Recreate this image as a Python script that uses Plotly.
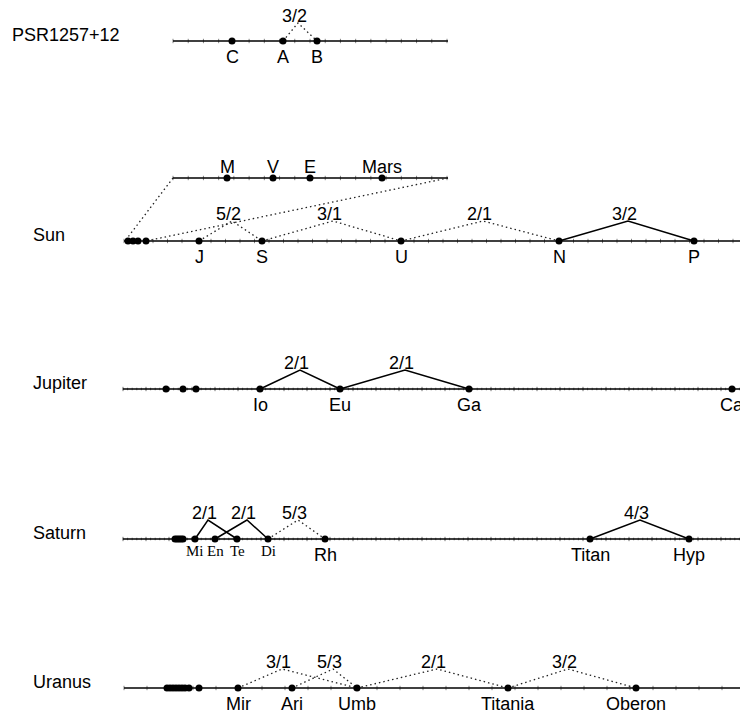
import numpy as np
import plotly.graph_objects as go

# ---------------- data (positions along each row's orbital-distance scale) ----------------
psr_names = ["C", "A", "B"]
psr_pos = [232, 283, 317]

inner_names = ["M", "V", "E", "Mars"]
inner_pos = [227, 273, 310, 382]

sun_small = [128, 133, 138, 146]
sun_names = ["J", "S", "U", "N", "P"]
sun_pos = [199, 262, 401, 559, 694]

jup_small = [166, 183, 196]
jup_names = ["Io", "Eu", "Ga", "Ca"]
jup_pos = [260, 340, 469, 732]

sat_small = [175, 177, 179, 181, 183]
sat_names = ["Mi", "En", "Te", "Di", "Rh", "Titan", "Hyp"]
sat_pos = [195, 215, 237, 268, 325, 590, 689]

ura_small = [167, 170, 173, 176, 179, 182, 185, 189, 199]
ura_names = ["Mir", "Ari", "Umb", "Titania", "Oberon"]
ura_pos = [238, 292, 357, 508, 636]

# resonances: (system, body1, body2, ratio, apex position, solid?)
resonances = [
    ("PSR", "A", "B", "3/2", 298, False),
    ("Sun", "J", "S", "5/2", 232, False),
    ("Sun", "S", "U", "3/1", 333, False),
    ("Sun", "U", "N", "2/1", 483, False),
    ("Sun", "N", "P", "3/2", 628, True),
    ("Jup", "Io", "Eu", "2/1", 300, True),
    ("Jup", "Eu", "Ga", "2/1", 405, True),
    ("Sat", "Mi", "Te", "2/1", 208, True),
    ("Sat", "En", "Di", "2/1", 247, True),
    ("Sat", "Di", "Rh", "5/3", 298, False),
    ("Sat", "Titan", "Hyp", "4/3", 640, True),
    ("Ura", "Mir", "Umb", "3/1", 282, False),
    ("Ura", "Ari", "Umb", "5/3", 333, False),
    ("Ura", "Umb", "Titania", "2/1", 437, False),
    ("Ura", "Titania", "Oberon", "3/2", 568, False),
]

row_titles = ["PSR1257+12", "Sun", "Jupiter", "Saturn", "Uranus"]

# ---------------- layout constants ----------------
W, H = 740, 715
LEV = {"PSR": 41, "Inset": 178, "Sun": 241, "Jup": 389, "Sat": 539, "Ura": 688}
TITLE_X = [10, 31, 31, 31, 31]
TITLE_KEYS = ["PSR", "Sun", "Jup", "Sat", "Ura"]
APEX_H = {"PSR": 18, "Sun": 20, "Jup": 19, "Sat": 19, "Ura": 19}
FONT = "Arial, Liberation Sans, sans-serif"
SERIF = "Times New Roman, Liberation Serif, serif"
FS = 18

systems = {
    "PSR": (psr_names, psr_pos, []),
    "Sun": (sun_names, sun_pos, sun_small),
    "Jup": (jup_names, jup_pos, jup_small),
    "Sat": (sat_names, sat_pos, sat_small),
    "Ura": (ura_names, ura_pos, ura_small),
}

fig = go.Figure()
ann = []

def seg_trace(xs, ys, color="black", width=1.6, dash="solid"):
    fig.add_trace(go.Scatter(x=xs, y=ys, mode="lines", hoverinfo="skip",
                             line=dict(color=color, width=width, dash=dash),
                             showlegend=False))

# axis lines and ticks
axes = [  # key, start, end, minor spacing, major spacing
    ("PSR", 173, 448, None, 274 / 18),
    ("Inset", 173, 448, None, 274 / 18),
    ("Sun", 124, 760, None, 14.5),
    ("Jup", 123, 760, 23 / 5, 23),
    ("Sat", 123, 760, 23 / 5, 23),
    ("Ura", 124, 760, None, 23),
]
tx, ty = [], []
for key, x0, x1, minor, major in axes:
    y = LEV[key]
    if minor:
        for t in np.arange(x0, x1 + 0.01, minor):
            tx += [t, t, None]
            ty += [y - 1.3, y + 1.3, None]
    for t in np.arange(x0, x1 + 0.01, major):
        tx += [t, t, None]
        ty += [y - 2.2, y + 2.2, None]
seg_trace(tx, ty, color="#777", width=0.9)

lx, ly = [], []
for key, x0, x1, _, _ in axes:
    lx += [x0, x1, None]
    ly += [LEV[key], LEV[key], None]
seg_trace(lx, ly, width=1.6)

DOT = "1.5px,3px"
# zoom lines from inset to the inner planets of the Sun row
seg_trace([173, 125, None, 448, 146], [LEV["Inset"], LEV["Sun"], None, LEV["Inset"], LEV["Sun"]],
          color="#222", width=1.3, dash=DOT)

# resonance connectors
for sysk, b1, b2, ratio, apex, solid in resonances:
    names, pos, _ = systems[sysk]
    xa, xb = pos[names.index(b1)], pos[names.index(b2)]
    y = LEV[sysk]
    ya = y - APEX_H[sysk]
    if solid:
        seg_trace([xa, apex, xb], [y, ya, y], color="black", width=1.5)
    else:
        seg_trace([xa, apex, xb], [y, ya, y], color="#222", width=1.3, dash=DOT)
    ann.append(dict(x=apex - 4, y=ya - 7, text=ratio, showarrow=False,
                    xanchor="center", yanchor="middle", font=dict(family=FONT, size=FS, color="black")))

# dots
dx, dy = [], []
for key, (names, pos, small) in systems.items():
    for p in list(small) + list(pos):
        dx.append(p)
        dy.append(LEV[key])
for p in inner_pos:
    dx.append(p)
    dy.append(LEV["Inset"])
fig.add_trace(go.Scatter(x=dx, y=dy, mode="markers", hoverinfo="skip", showlegend=False,
                         marker=dict(color="black", size=7, line=dict(width=0))))

# body names
serif_names = {"Mi", "En", "Te", "Di"}
for key, (names, pos, small) in systems.items():
    for n, p in zip(names, pos):
        if n in serif_names:
            ann.append(dict(x=p, y=LEV[key] + 12, text=n, showarrow=False, yanchor="middle",
                            font=dict(family=SERIF, size=15, color="black")))
        else:
            ann.append(dict(x=p, y=LEV[key] + 16, text=n, showarrow=False, yanchor="middle",
                            font=dict(family=FONT, size=FS, color="black")))
for n, p in zip(inner_names, inner_pos):
    ann.append(dict(x=p, y=LEV["Inset"] - 11, text=n, showarrow=False, yanchor="middle",
                    font=dict(family=FONT, size=FS, color="black")))

# row titles
for t, k, x in zip(row_titles, TITLE_KEYS, TITLE_X):
    ann.append(dict(x=x, y=LEV[k] - 6, text=t, showarrow=False, xanchor="left", yanchor="middle",
                    font=dict(family=FONT, size=FS, color="black")))

fig.update_layout(
    width=W, height=H, margin=dict(l=0, r=0, t=0, b=0),
    paper_bgcolor="white", plot_bgcolor="white",
    xaxis=dict(range=[0, W], visible=False, fixedrange=True),
    yaxis=dict(range=[H, 0], visible=False, fixedrange=True),
    annotations=ann, showlegend=False,
)
fig.write_html("out.html", config={"displayModeBar": False},
               post_script="document.body.style.margin='0';document.body.style.overflow='hidden';")
